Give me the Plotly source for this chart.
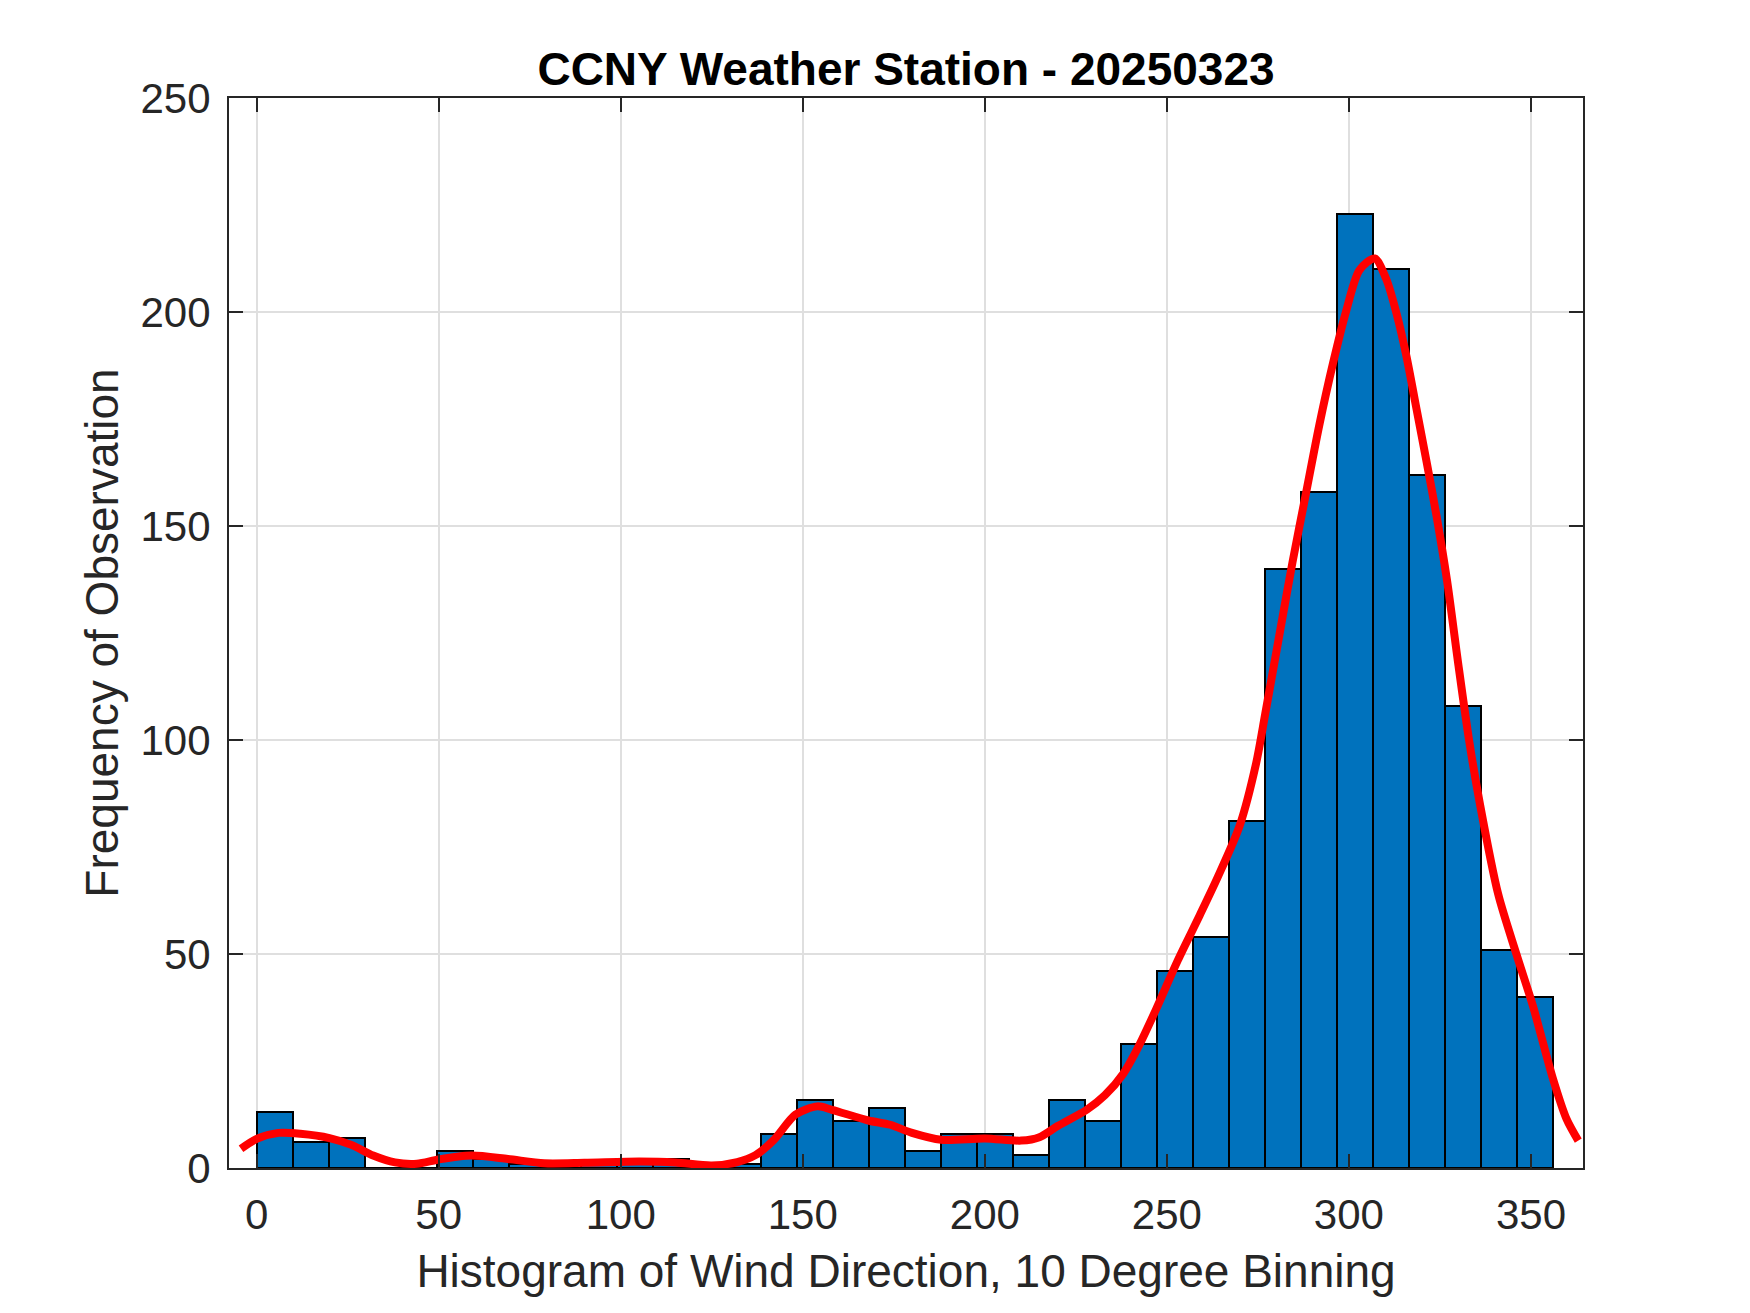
import numpy as np
import plotly.graph_objects as go

# Wind direction histogram, 36 bins spanning 0..356 deg
bin_lo = 0.0
bin_hi = 356.0
counts = [13, 6, 7, 0, 0, 4, 2, 1, 0, 1, 1, 2, 0, 1, 8, 16, 11, 14,
          4, 8, 8, 3, 16, 11, 29, 46, 54, 81, 140, 158, 223, 210, 162, 108, 51, 40]

# smoothed (density) curve
curve_deg = [-4.3, 0, 6, 12, 20, 26, 32, 38, 44, 50, 59, 69, 79, 90, 105, 115, 125,
             132, 137, 142, 148, 154, 158, 168, 174, 180, 188, 200, 210, 215, 220,
             228, 233, 238, 242, 247, 253, 259, 264, 270, 274.5, 277, 281, 284.5,
             288.2, 291.9, 295.6, 299.3, 302.9, 307.1, 310.3, 313.1, 315.8, 318.6,
             321.4, 324.1, 327, 330, 333, 336, 341, 346, 350.6, 356, 359.8, 363]
curve_freq = [4.5, 6.8, 8.2, 8.0, 7.0, 5.4, 2.9, 1.3, 1.0, 2.0, 2.9, 2.1, 1.1, 1.2, 1.5,
              1.3, 0.6, 1.4, 3.0, 6.5, 12.5, 14.4, 13.6, 11.1, 10.1, 8.2, 6.6, 6.9,
              6.4, 7.2, 9.8, 13.6, 17.0, 22.0, 28, 37, 48.5, 59, 68, 80, 94.5, 106,
              125, 141.5, 157.6, 173.7, 187.9, 200.4, 209.8, 212.5, 207.6, 199.6,
              189.7, 177.2, 164.7, 152.2, 137, 118, 100, 85, 64, 50, 37.7, 21, 11.4, 6.4]

x_ticks = [0, 50, 100, 150, 200, 250, 300, 350]
y_ticks = [0, 50, 100, 150, 200, 250]

edges = np.linspace(bin_lo, bin_hi, len(counts) + 1)
centers = (edges[:-1] + edges[1:]) / 2
bw = edges[1] - edges[0]

FONT = "Liberation Sans, Arial, sans-serif"
AXC = "#262626"

fig = go.Figure()
fig.add_trace(go.Bar(
    x=centers, y=counts, width=bw,
    marker=dict(color="#0072BD", line=dict(color="black", width=2)),
    showlegend=False, hoverinfo="skip"
))
fig.add_trace(go.Scatter(
    x=curve_deg, y=curve_freq, mode="lines",
    line=dict(color="#FF0000", width=8, shape="spline", smoothing=0.8),
    showlegend=False, hoverinfo="skip"
))

axis_common = dict(
    showline=True, linecolor=AXC, linewidth=2, mirror="ticks",
    ticks="inside", ticklen=14, tickwidth=2, tickcolor=AXC,
    showgrid=True, gridcolor="#dfdfdf", gridwidth=2, zeroline=False,
    tickfont=dict(family=FONT, size=42, color=AXC),
)

fig.update_layout(
    width=1750, height=1313,
    paper_bgcolor="white", plot_bgcolor="white",
    margin=dict(l=221, r=175, t=90, b=153),
    title=dict(text="<b>CCNY Weather Station - 20250323</b>",
               font=dict(family=FONT, size=46, color="black"),
               x=0.5, xref="paper", xanchor="center",
               y=1 - 61 / 1313, yref="container", yanchor="middle"),
    xaxis=dict(range=[-7.6, 364.3], tickvals=x_ticks, ticklabelstandoff=9,
               title=dict(text="Histogram of Wind Direction, 10 Degree Binning",
                          font=dict(family=FONT, size=46, color=AXC), standoff=17),
               **axis_common),
    yaxis=dict(range=[0, 250], tickvals=y_ticks, ticklabelstandoff=8,
               title=dict(text="Frequency of Observation",
                          font=dict(family=FONT, size=46, color=AXC), standoff=7),
               **axis_common),
    bargap=0,
)

fig.write_html("out.html")
